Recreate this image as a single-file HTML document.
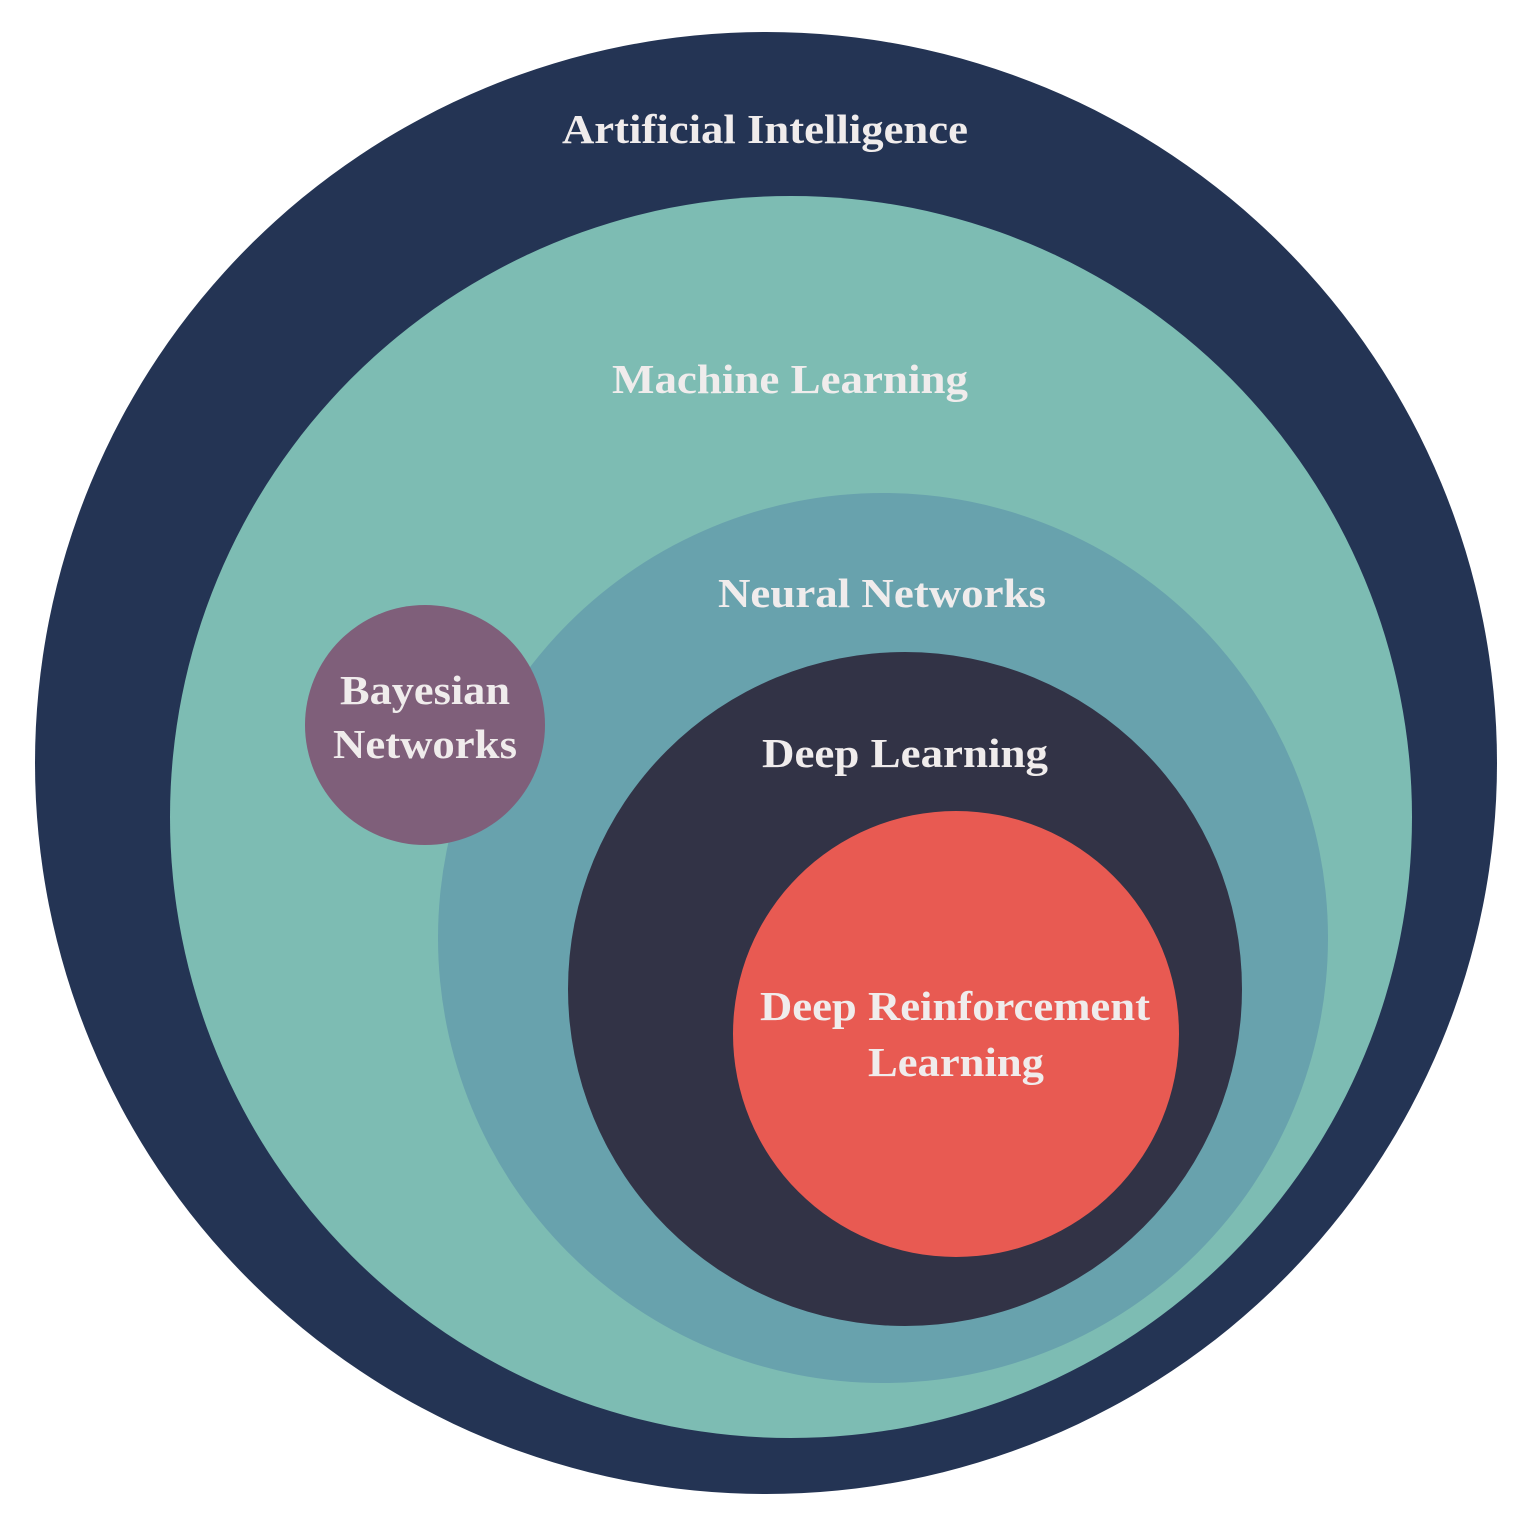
<!DOCTYPE html>
<html><head><meta charset="utf-8"><style>
html,body{margin:0;padding:0;background:#fff;}
svg{display:block;}
text{font-family:"Liberation Serif",serif;font-weight:bold;fill:#f0ecec;text-anchor:middle;}
</style></head><body>
<svg width="1534" height="1530" viewBox="0 0 1534 1530">
<rect width="1534" height="1530" fill="#fff"/>
<circle cx="766" cy="763" r="731" fill="#243454"/>
<circle cx="791" cy="817" r="621" fill="#7dbcb3"/>
<circle cx="883" cy="938" r="445" fill="#68a2ad"/>
<circle cx="905" cy="989" r="337" fill="#323346"/>
<circle cx="956" cy="1034" r="223" fill="#e85a52"/>
<circle cx="425" cy="725" r="120" fill="#7f5f7a"/>
<g font-size="41">
<text x="765" y="143" textLength="406" lengthAdjust="spacingAndGlyphs">Artificial Intelligence</text>
<text x="790" y="393" textLength="356" lengthAdjust="spacingAndGlyphs">Machine Learning</text>
<text x="882" y="607" textLength="328" lengthAdjust="spacingAndGlyphs">Neural Networks</text>
<text x="905" y="767" textLength="286" lengthAdjust="spacingAndGlyphs">Deep Learning</text>
<text x="955" y="1020" textLength="390" lengthAdjust="spacingAndGlyphs">Deep Reinforcement</text>
<text x="956" y="1076" textLength="176" lengthAdjust="spacingAndGlyphs">Learning</text>
<text x="425" y="704" textLength="170" lengthAdjust="spacingAndGlyphs">Bayesian</text>
<text x="425" y="758" textLength="184" lengthAdjust="spacingAndGlyphs">Networks</text>
</g>
</svg>
</body></html>
